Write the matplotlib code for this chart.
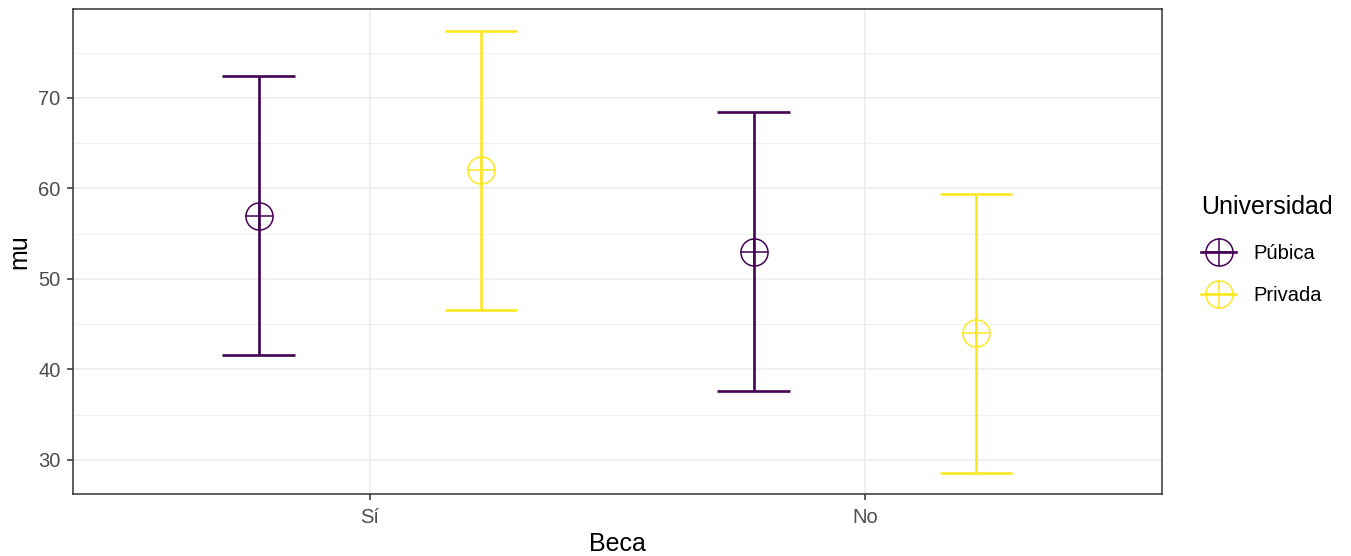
import matplotlib
matplotlib.use("Agg")
import matplotlib.pyplot as plt
from matplotlib.lines import Line2D
import numpy as np

plt.rcParams['font.family'] = ['Liberation Sans', 'DejaVu Sans']

becas = ['Sí', 'No']
grupos = ['Púbica', 'Privada']
colores = ['#440154', '#FDE725']

# mu con intervalo (inferior, superior) por grupo, en el orden de becas
mu = {'Púbica': [57.0, 53.0], 'Privada': [62.0, 44.0]}
inf = {'Púbica': [41.6, 37.6], 'Privada': [46.6, 28.6]}
sup = {'Púbica': [72.4, 68.4], 'Privada': [77.4, 59.4]}

fig = plt.figure(figsize=(13.51, 5.56), dpi=100)
ax = fig.add_axes([0.054, 0.1115, 0.806, 0.8723])

x = np.arange(1, len(becas) + 1)
dodge = 0.225
cap = 0.073
ms = 19.5

for i, g in enumerate(grupos):
    xs = x + (i * 2 - 1) * dodge
    c = colores[i]
    for xi, m, lo, hi in zip(xs, mu[g], inf[g], sup[g]):
        ax.plot([xi, xi], [lo, hi], color=c, lw=1.9, solid_capstyle='butt', zorder=3)
        ax.plot([xi - cap, xi + cap], [lo, lo], color=c, lw=1.9, solid_capstyle='butt', zorder=3)
        ax.plot([xi - cap, xi + cap], [hi, hi], color=c, lw=1.9, solid_capstyle='butt', zorder=3)
    ax.plot(xs, mu[g], ls='none', marker='o', ms=ms, mfc='none', mec=c, mew=1.1, zorder=4)
    ax.plot(xs, mu[g], ls='none', marker='+', ms=ms, mec=c, mew=1.1, zorder=4)

ax.set_xlim(0.4, 2.6)
ax.set_ylim(26.24, 79.83)
ax.set_xticks(x)
ax.set_xticklabels(becas)
ax.set_yticks([30, 40, 50, 60, 70])
ax.set_yticks([35, 45, 55, 65, 75], minor=True)

ax.grid(True, which='major', color='#EBEBEB', lw=1.1, zorder=0)
ax.grid(True, which='minor', axis='y', color='#EBEBEB', lw=0.55, zorder=0)
ax.set_axisbelow(True)
for s in ax.spines.values():
    s.set_color('#333333')
    s.set_linewidth(1.1)
ax.tick_params(axis='both', which='major', colors='#333333', labelcolor='#4D4D4D',
               labelsize=14.5, length=4.5, width=1.1, pad=5.5)
ax.tick_params(axis='y', pad=4.5)
ax.tick_params(axis='both', which='minor', length=0)

ax.set_xlabel('Beca', fontsize=18, labelpad=4)
ax.set_ylabel('mu', fontsize=18, labelpad=5)

handles = []
for c in colores:
    h_line = Line2D([0], [0], color=c, lw=1.9)
    h_o = Line2D([0], [0], ls='none', marker='o', ms=ms, mfc='none', mec=c, mew=1.1)
    h_p = Line2D([0], [0], ls='none', marker='+', ms=ms, mec=c, mew=1.1)
    handles.append((h_line, h_o, h_p))

leg = fig.legend(handles, grupos, title='Universidad', loc='upper left',
                 bbox_to_anchor=(0.8816, 0.668), frameon=False, fontsize=14.5,
                 title_fontsize=18, handlelength=1.75, handletextpad=0.85,
                 labelspacing=1.15, borderpad=0)
leg._legend_box.align = 'left'
leg._legend_box.sep = 18

fig.savefig('out.png', dpi=100)
